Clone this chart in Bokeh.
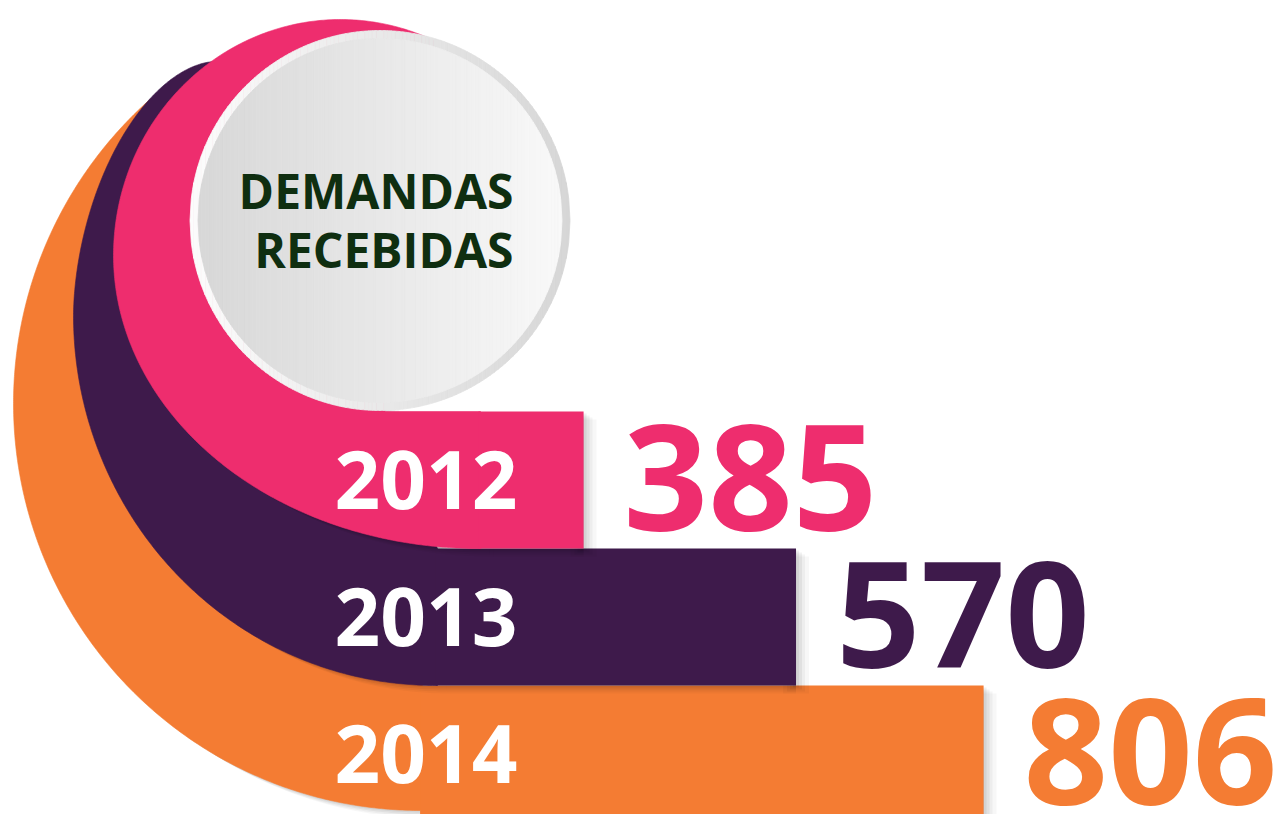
import numpy as np
from bokeh.plotting import figure
from bokeh.models import Range1d, LogScale
from bokeh.core.properties import value
from bokeh.embed import file_html
from bokeh.resources import INLINE

# ---------------- data ----------------
years = ["2012", "2013", "2014"]
demandas = [385, 570, 806]
colors = ["#EE2D6E", "#3E1A4B", "#F47C33"]
title_lines = ["DEMANDAS", "RECEBIDAS"]

# ---------------- layout ----------------
W, H = 1288, 814
X0, X1, Y0, Y1 = 0, 1288, 0, 814
ROW_TOP, ROW_H = 411.0, 137.0
rows = [ROW_TOP + ROW_H * (i + 0.5) for i in range(len(years))]
BASE_SHIFT = 0.365   # measured offset of the rendered alphabetic baseline (em)

# value axis (logarithmic): px = LOG_A + LOG_B * ln(v)
LOG_A, LOG_B = -2640.0, 541.4


def val_at(px):
    return float(np.exp((px - LOG_A) / LOG_B))


p = figure(width=W, height=H, output_backend="svg", toolbar_location=None,
           x_range=Range1d(X0, X1), y_range=Range1d(Y1, Y0),
           x_axis_location=None, y_axis_location=None, min_border=0,
           background_fill_color="white", border_fill_color="white",
           outline_line_color=None)
p.grid.visible = False
p.extra_x_ranges = {"val": Range1d(val_at(X0), val_at(X1))}
p.extra_x_scales = {"val": LogScale()}

# ---------------- decorative swoosh geometry ----------------
def sup_pt(ell, t):
    cx, cy, rx, ry, n = ell
    c, s = np.cos(t), np.sin(t)
    e = 2.0 / n
    return (cx + rx * np.sign(c) * np.abs(c) ** e,
            cy - ry * np.sign(s) * np.abs(s) ** e)


def sup_arc(ell, t0, t1, num=180):
    t = np.radians(np.linspace(t0, t1, num))
    return sup_pt(ell, t)


def level(pt, ell):
    cx, cy, rx, ry, n = ell
    return (abs(pt[0] - cx) / rx) ** n + (abs(pt[1] - cy) / ry) ** n


CIRC = (379.5, 220.0, 190.0)   # gray badge: cx, cy, r
RING = 8.0

geom = [
    dict(upper=(340, 255, 227, 236, 2.0), lower=(478, 255, 365, 293, 2.0), xj=478),
    dict(upper=(215, 315, 142, 254, 1.8), lower=(435, 315, 362, 370, 2.0), xj=435),
    dict(upper=(420, 403, 407, 407, 2.0), lower=(420, 403, 407, 407, 2.0), xj=420),
]


def hidden(pt, i):
    """is pt covered by a shape drawn above layer i?"""
    cx, cy, r = CIRC
    if np.hypot(pt[0] - cx, pt[1] - cy) < r - 2:
        return True
    for k in range(i):
        up = geom[k]["upper"]
        if pt[1] < up[1] and level(pt, up) < 0.995:
            return True
    return False


def tip_angle(i):
    up = geom[i]["upper"]
    start = 90 if i == 0 else 180
    for td in np.arange(start, 0, -0.25):
        if hidden(sup_pt(up, np.radians(td)), i):
            return td
    return 60


def swoosh(i):
    g = geom[i]
    row = rows[i]
    top, bot = row - ROW_H / 2, row + ROW_H / 2
    t0 = tip_angle(i)
    ux, uy = sup_arc(g["upper"], t0, 180)
    lx, ly = sup_arc(g["lower"], 180, 270)
    xs = list(ux) + list(lx)
    ys = list(uy) + list(ly)
    xj = g["xj"]
    xs += [xj, xj + 2, xj + 2]
    ys += [max(bot, ys[-1]), bot, top]
    if i == 0:
        xs += [CIRC[0] + 5]
        ys += [top]
    return np.array(xs), np.array(ys)


SHADOW = [(3, 2, 0.06), (6, 4, 0.05), (9, 6, 0.04), (13, 8, 0.03)]

for i in [2, 1, 0]:
    sx, sy = swoosh(i)
    row, v, c, xj = rows[i], demandas[i], colors[i], geom[i]["xj"]
    for dx, dy, a in SHADOW:
        p.patch(sx + dx, sy + dy, fill_color="black", fill_alpha=a, line_color=None)
        p.hbar(y=[row + dy], left=[val_at(xj + dx + 2)], right=[v], height=ROW_H,
               x_range_name="val", fill_color="black", fill_alpha=a, line_color=None)
        p.rect(x=[v], y=[row + dy], width=2 * dx, width_units="screen", height=ROW_H,
               x_range_name="val", fill_color="black", fill_alpha=a, line_color=None)
    p.patch(sx, sy, fill_color=c, line_color=c, line_width=0.6)
    p.hbar(y=[row], left=[val_at(xj)], right=[v], height=ROW_H,
           x_range_name="val", fill_color=c, line_color=None)

# ---------------- gradient badge ----------------
def grad_disc(cx, cy, r, c_left, c_right, n=100):
    xs, ys, cols = [], [], []
    edges = np.linspace(-r, r, n + 1)
    for j in range(n):
        xx = np.linspace(edges[j], edges[j + 1], 4)
        hh = np.sqrt(np.clip(r * r - xx * xx, 0, None))
        xs.append(list(cx + np.concatenate([xx, xx[::-1]])))
        ys.append(list(cy + np.concatenate([-hh, hh[::-1]])))
        t = (j + 0.5) / n
        rgb = [int(round(a + (b - a) * t)) for a, b in zip(c_left, c_right)]
        cols.append("#%02x%02x%02x" % tuple(rgb))
    p.patches(xs, ys, fill_color=cols, line_color=cols, line_width=0.8)


cx, cy, r = CIRC
grad_disc(cx, cy, r, (252, 252, 252), (214, 214, 214))
grad_disc(cx, cy, r - RING, (215, 215, 215), (249, 249, 249))

# ---------------- texts ----------------
TS, YS, NS = 48, 80, 148
p.text(x=[513, 513], y=[208 - BASE_SHIFT * TS, 267 - BASE_SHIFT * TS], text=title_lines,
       text_align="right", text_baseline="alphabetic", text_font=value("Open Sans"),
       text_font_style="bold", text_font_size=f"{TS}px", text_color="#0F2E10")

p.text(x=[334] * len(years), y=[r_ + 29 - BASE_SHIFT * YS for r_ in rows], text=years,
       text_align="left", text_baseline="alphabetic",
       text_font=value("Open Sans"), text_font_style="bold",
       text_font_size=f"{YS}px", text_color="white")

p.text(x=demandas, y=[r_ + 52 - BASE_SHIFT * NS for r_ in rows],
       text=[str(v) for v in demandas],
       x_range_name="val", x_offset=40, text_align="left",
       text_baseline="alphabetic", text_font=value("Open Sans"),
       text_font_style="bold", text_font_size=f"{NS}px", text_color=colors)

open("out.html", "w").write(file_html(p, INLINE))
